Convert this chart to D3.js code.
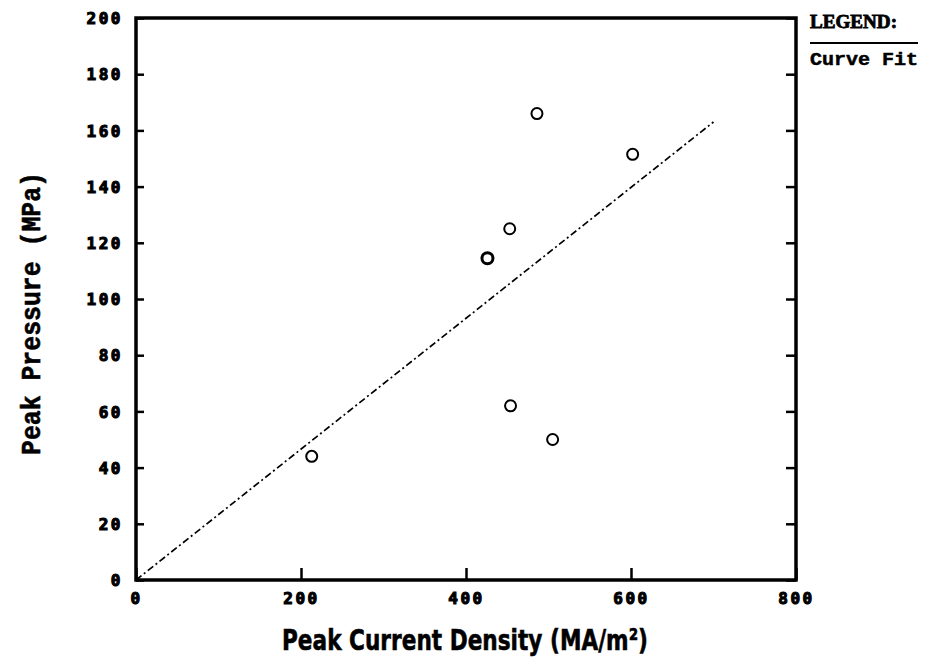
<!DOCTYPE html>
<html>
<head>
<meta charset="utf-8">
<script src="https://cdn.jsdelivr.net/npm/d3@7"></script>
<style>
	body { margin: 0; background: #ffffff; }
	svg { display: block; }
</style>
</head>
<body>
<svg width="930" height="666"></svg>
<script>

// measured points: current density (MA/m^2) vs pressure (MPa)
var current = [213, 426, 453, 486, 602, 454, 505];
var pressure = [44, 114.5, 125, 166, 151.5, 62, 50];

// curve fit end points
var fitCurrent = [0, 700];
var fitPressure = [0, 163];

var xTicks = [0, 200, 400, 600, 800];
var yTicks = [0, 20, 40, 60, 80, 100, 120, 140, 160, 180, 200];

var svg = d3.select("svg");

var x = d3.scaleLinear()
	.domain([0, 800])
	.range([136, 796]);

var y = d3.scaleLinear()
	.domain([0, 200])
	.range([580, 18]);

///////////////////////////////////////////////////

// left axis, ticks pointing in
var yAxis = svg.append("g")
	.attr("transform", "translate(136,0)")
	.call(d3.axisLeft(y)
		.tickValues(yTicks)
		.tickSize(-8)
		.tickSizeOuter(0)
		.tickPadding(13)
		.tickFormat(d3.format("d")));

// right side only has tick marks
var yAxisRight = svg.append("g")
	.attr("transform", "translate(796,0)")
	.call(d3.axisRight(y)
		.tickValues(yTicks)
		.tickSize(-10)
		.tickSizeOuter(0)
		.tickFormat(""));

var xAxis = svg.append("g")
	.attr("transform", "translate(0,580)")
	.call(d3.axisBottom(x)
		.tickValues(xTicks)
		.tickSize(-12)
		.tickSizeOuter(0)
		.tickPadding(13)
		.tickFormat(d3.format("d")));

svg.selectAll(".domain").remove();

svg.selectAll(".tick line")
	.style("stroke", "#000000")
	.style("stroke-width", 2.5);

svg.selectAll(".tick text")
	.style("font-family", "'DejaVu Sans Mono', monospace")
	.style("font-weight", "bold")
	.style("font-size", "16px")
	.style("letter-spacing", "2.5px")
	.style("fill", "#000000")
	.style("stroke", "#000000")
	.style("stroke-width", 1.1);

yAxis.selectAll(".tick text")
	.attr("dy", "0.36em");

// frame around the plot
svg.append("rect")
	.attr("x", x(0))
	.attr("y", y(200))
	.attr("width", x(800) - x(0))
	.attr("height", y(0) - y(200))
	.style("fill", "none")
	.style("stroke", "#000000")
	.style("stroke-width", 3.5);

///////////////////////////////////////////////////

var fit = d3.line()
	.x(function(d, i) { return x(fitCurrent[i]); })
	.y(function(d, i) { return y(fitPressure[i]); });

svg.append("path")
	.datum(fitCurrent)
	.attr("d", fit)
	.style("fill", "none")
	.style("stroke", "#000000")
	.style("stroke-width", 1.7)
	.style("stroke-dasharray", "7,3,2,3");

svg.selectAll(".pt")
	.data(current)
	.enter()
	.append("circle")
	.attr("class", "pt")
	.attr("cx", function(d) { return x(d); })
	.attr("cy", function(d, i) { return y(pressure[i]); })
	.attr("r", 5.5)
	.style("fill", "none")
	.style("stroke", "#000000")
	.style("stroke-width", function(d, i) { return i == 1 ? 3 : 2; });

///////////////////////////////////////////////////

svg.append("text")
	.attr("x", 282)
	.attr("y", 650)
	.attr("textLength", 366)
	.attr("lengthAdjust", "spacingAndGlyphs")
	.style("font-family", "'DejaVu Sans', sans-serif")
	.style("font-weight", "bold")
	.style("font-size", "29px")
	.style("stroke", "#000000")
	.style("stroke-width", 0.6)
	.text("Peak Current Density (MA/m²)");

svg.append("text")
	.attr("transform", "translate(40,455) rotate(-90)")
	.attr("textLength", 283)
	.attr("lengthAdjust", "spacingAndGlyphs")
	.style("font-family", "'Liberation Mono', monospace")
	.style("font-weight", "bold")
	.style("font-size", "28px")
	.style("stroke", "#000000")
	.style("stroke-width", 0.6)
	.text("Peak Pressure (MPa)");

// legend
svg.append("text")
	.attr("x", 810)
	.attr("y", 28)
	.attr("textLength", 87)
	.attr("lengthAdjust", "spacingAndGlyphs")
	.style("font-family", "'Liberation Serif', serif")
	.style("font-weight", "bold")
	.style("font-size", "18px")
	.style("stroke", "#000000")
	.style("stroke-width", 0.8)
	.text("LEGEND:");

svg.append("line")
	.attr("x1", 810)
	.attr("x2", 918)
	.attr("y1", 43)
	.attr("y2", 43)
	.style("stroke", "#000000")
	.style("stroke-width", 2);

svg.append("text")
	.attr("x", 810)
	.attr("y", 65)
	.attr("textLength", 108)
	.attr("lengthAdjust", "spacingAndGlyphs")
	.style("font-family", "'Liberation Mono', monospace")
	.style("font-weight", "bold")
	.style("font-size", "18px")
	.style("stroke", "#000000")
	.style("stroke-width", 0.5)
	.text("Curve Fit");

</script>
</body>
</html>
